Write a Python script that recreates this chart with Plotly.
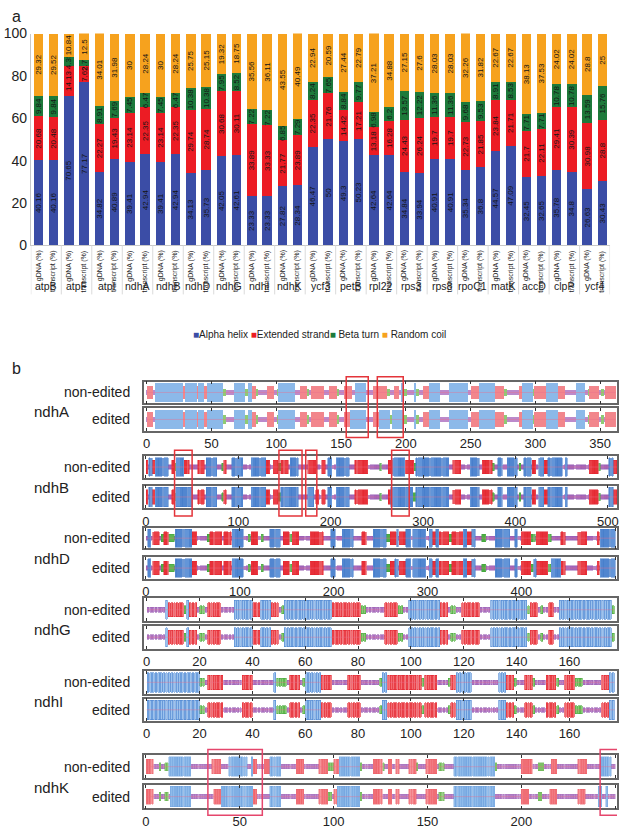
import plotly.graph_objects as go

# ---------------- Panel a data ----------------
genes = ["atpB", "atpF", "atpI", "ndhA", "ndhB", "ndhD", "ndhG", "ndhI", "ndhK", "ycf3",
         "petB", "rpl22", "rps3", "rps8", "rpoC1", "matK", "accD", "clpP", "ycf4"]
conditions = ["gDNA (%)", "transcript (%)"]

alpha_helix = [40.16, 40.16, 70.65, 77.17, 34.82, 40.89, 39.41, 42.94, 39.41, 42.94,
               34.13, 35.73, 42.05, 42.61, 23.33, 23.33, 27.82, 28.34, 46.47, 50,
               49.3, 50.23, 42.64, 42.64, 34.84, 33.94, 40.91, 40.91, 35.34, 36.8,
               44.57, 47.09, 32.45, 32.65, 35.78, 34.8, 26.63, 30.43]
extended_strand = [20.68, 20.48, 14.13, 7.62, 22.27, 19.43, 23.14, 22.35, 23.14, 22.35,
                   29.74, 28.74, 30.68, 30.11, 33.89, 33.33, 21.77, 23.89, 22.35, 21.76,
                   14.42, 17.21, 13.18, 16.28, 24.43, 26.24, 19.7, 19.7, 22.73, 21.85,
                   23.84, 21.71, 21.7, 22.11, 29.41, 30.39, 30.98, 28.8]
beta_turn = [9.84, 9.84, 4.35, 2.72, 8.91, 7.69, 7.45, 6.47, 7.45, 6.47,
             10.38, 10.38, 7.95, 8.52, 7.22, 7.22, 6.85, 7.29, 8.24, 7.65,
             8.84, 9.77, 6.98, 6.2, 13.57, 12.22, 11.36, 11.36, 9.68, 9.53,
             8.91, 8.53, 7.71, 7.71, 10.78, 10.78, 13.59, 15.76]
random_coil = [29.32, 29.52, 10.84, 12.5, 34.01, 31.98, 30, 28.24, 30, 28.24,
               25.75, 25.15, 19.32, 18.75, 35.56, 36.11, 43.55, 40.49, 22.94, 20.59,
               27.44, 22.79, 37.21, 34.88, 27.15, 27.6, 28.03, 28.03, 32.26, 31.82,
               22.67, 22.67, 38.13, 37.53, 24.02, 24.02, 28.8, 25]
y_ticks = [0, 20, 40, 60, 80, 100]

# ---------------- Panel b data (run-length secondary structure) ----------------
# H = alpha helix, E = extended strand, T = beta turn, C = random coil
ndhA_non_edited = ("C1 E4 C2 H21 E2 H9 E1 H4 E3 H12 T2 C7 H8 T2 C1 H2 E3 T2 C7 E5 C3 T1 H12 C5 E5 T1 C2 "
                   "E10 C4 E6 T1 C5 E5 C3 H8 C6 E10 T3 C3 E4 C2 H1 T3 C6 H1 T2 C4 E4 H8 C8 H14 C3 E6 "
                   "H12 E7 T2 C10 E2 H8 T1 E2 T1 E7 H8 E6 C9 H6 C3 T1 E3 C1 E3 C2 T2 C1 E4 C1 E3")
ndhA_edited = ("C1 E4 C2 H21 E2 H9 E1 H4 E3 H12 T2 C7 H8 T2 C1 H2 E3 T2 C7 E5 C3 T1 H12 C5 E5 T1 C2 "
               "E10 C4 E6 T1 C5 E4 H12 C6 E5 H8 T2 H3 C1 H4 T3 C6 H1 T2 C4 E4 H8 C8 H14 C3 E6 "
               "H12 E7 T2 C10 E2 H8 T1 E2 T1 E7 H8 E6 C9 H6 C3 T1 E3 C1 E3 C2 T2 C1 E4 C1 E3")
ndhB_non_edited = ("E2 C1 H4 E3 H14 C4 E3 T2 H8 E6 C9 E7 C2 H12 C5 T2 E3 C6 H12 C9 H16 E4 C4 E5 T3 E8 "
                   "C2 H9 C10 E9 C6 E4 C3 H4 C5 H14 C6 E14 C13 T2 C7 E5 H13 E10 T2 H36 C4 E9 C10 H10 "
                   "C3 E11 T2 C4 H5 C5 H11 C2 T2 C3 H8 C1 E4 C3 H6 E4 H16 C3 H2 C24 E10 T2 C9 H5 E4")
ndhB_edited = ("E2 C1 H4 E3 H14 C4 E2 T2 H18 C6 E7 C2 H12 C5 T2 E3 C6 H12 C9 H16 E4 C4 E5 T3 H19 "
               "C10 H7 C2 E3 C3 E4 C3 H4 C5 H14 C6 E14 C13 T2 C7 E3 H24 T3 H36 C4 E9 C10 H10 "
               "C3 E11 T2 C4 H5 C5 H11 C2 T2 C3 H8 C1 E4 C3 H6 E4 H16 C3 H2 C24 E10 T2 C9 H5 E4")
ndhD_non_edited = ("C2 H3 C2 E7 C2 T3 E5 T6 C1 H18 E5 C11 T3 E13 C2 E8 C1 H12 C5 T2 C1 E7 C4 T2 C7 H11 "
                   "C3 E7 T3 E7 C12 E14 C8 H5 C7 H12 C9 E5 C7 H14 T4 E7 H2 C1 E7 H5 C2 H14 C4 H3 E4 "
                   "H3 E11 T3 E12 H4 E5 H4 C7 T4 C10 H16 C5 H3 C4 E10 T5 C1 E12 T4 C10 E5 C13 E10 "
                   "C11 E2 C1 H16")
ndhD_edited = ("C2 H3 C2 E7 C2 T3 E5 T6 C1 H18 E5 C11 T3 E13 C2 E8 C1 H12 C5 T2 C1 E7 C4 T2 C7 H11 "
               "C3 E7 T3 E7 C12 E14 C8 H5 C7 H12 C9 E5 C7 H14 T4 E5 H4 C1 E7 H5 C2 H14 C4 H3 E4 "
               "H3 E11 T3 E12 H4 E5 H4 C7 T4 C10 H16 C5 H3 C4 E10 T3 H3 E12 T4 H10 E5 C13 E10 "
               "C11 E2 C1 H16")
ndhG_non_edited = ("C7 H1 E6 T1 H1 E3 C1 T2 C1 E5 C5 H7 E3 H4 E3 C1 T1 H18 E11 T2 C7 E5 T2 C2 H12 E3 "
                   "C1 T2 C2 E7 C4 H14 T1 E3 C1 T1 C2 E2 C2 H20 T1")
ndhG_edited = ("C7 H1 E6 T1 H1 E3 C1 T2 C1 E5 C5 H7 E3 H4 E3 C1 T1 H18 E11 T2 C7 E5 T2 C2 H12 E3 "
               "C1 T2 C2 E7 C4 H14 T1 E3 C1 T1 C2 E2 C2 H20 T1")
ndhI_non_edited = ("H20 T2 C1 E6 C7 E4 C8 H1 T4 C1 E4 C1 T1 H6 E4 C6 E5 C7 T1 H2 E13 T1 E5 C4 T1 E2 "
                   "H6 C10 H3 E3 T1 C3 E3 T1 C4 E4 T1 C2 E4 T3 C7 E3 H2")
ndhI_edited = ("H20 T2 C1 E6 C7 E4 C8 H1 T4 C1 E4 C1 T1 H6 E4 C6 E5 C7 T1 H2 E13 T1 E5 C4 T1 E2 "
               "H6 C10 H3 E3 T1 C3 E3 T1 C4 E4 T1 C2 E4 T3 C7 E3 H2")
ndhK_non_edited = ("E4 C3 T1 C2 T2 H12 C11 E5 C4 H10 C2 H1 E2 C4 E3 H6 C8 E4 C8 E5 T3 E3 H11 T1 C6 E5 "
                   "T1 C2 E2 C2 E2 C5 E4 T1 C4 E6 C1 T3 C5 H22 T1 C13 E6 C3 T3 C4 E3 C11 E5 C7 H6 C2")
ndhK_edited = ("E4 C3 T1 C2 T2 C1 H11 C12 E4 H17 E2 C7 H6 C8 E4 C8 E5 T2 C1 E2 H12 T1 C6 E5 C3 E2 "
               "C2 E2 C5 E4 C5 E6 C1 T3 C5 H22 C14 E4 C5 T2 C4 E4 C11 E4 C7 H2 C2 H1 C4")

track_genes = ["ndhA", "ndhB", "ndhD", "ndhG", "ndhI", "ndhK"]
track_ranges = {"ndhA": [-2, 363], "ndhB": [-2, 510], "ndhD": [-2, 502],
                "ndhG": [-1, 178], "ndhI": [-1, 178], "ndhK": [-1, 251]}
track_dtick = {"ndhA": 50, "ndhB": 100, "ndhD": 100, "ndhG": 20, "ndhI": 20, "ndhK": 50}
track_data = {"ndhA": (ndhA_non_edited, ndhA_edited), "ndhB": (ndhB_non_edited, ndhB_edited),
              "ndhD": (ndhD_non_edited, ndhD_edited), "ndhG": (ndhG_non_edited, ndhG_edited),
              "ndhI": (ndhI_non_edited, ndhI_edited), "ndhK": (ndhK_non_edited, ndhK_edited)}
highlights = {"ndhA": [(154, 171), (178, 198)],
              "ndhB": [(31, 50), (144, 169), (173, 185), (266, 285)],
              "ndhK": [(33, 62), (242, 258)]}

# ---------------- figure ----------------
W, H = 623, 836
FONT = "Liberation Sans"


def px(p):
    return p / W


def py(p):
    return 1 - p / H


def expand(rle):
    codes = []
    for tok in rle.split():
        codes += [tok[0]] * int(tok[1:])
    return codes


fig = go.Figure()

colors_a = {"Alpha helix": "#3B4DA6", "Extended strand": "#EC1C24",
            "Beta turn": "#1D7A3B", "Random coil": "#F6A21E"}
series = [("Alpha helix", alpha_helix), ("Extended strand", extended_strand),
          ("Beta turn", beta_turn), ("Random coil", random_coil)]
xpos = list(range(len(alpha_helix)))
for name, vals in series:
    fig.add_trace(go.Bar(
        x=xpos, y=vals, name=name, width=0.62,
        marker=dict(color=colors_a[name], line=dict(width=0)),
        text=[f"{v:g}" for v in vals], textposition="inside", textangle=-90,
        insidetextanchor="middle", constraintext="none",
        textfont=dict(size=8, color="#141414", family=FONT),
        xaxis="x", yaxis="y", showlegend=False, hoverinfo="skip"))

annotations = []
shapes = []

# condition labels (rotated) and gene labels under panel a
cond_labels = [c for _ in genes for c in conditions]
for i, c in enumerate(cond_labels):
    annotations.append(dict(x=i, y=py(245), xref="x", yref="paper", text=c, textangle=-90,
                            showarrow=False, font=dict(size=7, color="#222", family=FONT),
                            xanchor="center", yanchor="top"))
for i, g in enumerate(genes):
    annotations.append(dict(x=2 * i + 0.5, y=py(283), xref="x", yref="paper", text=g,
                            showarrow=False, font=dict(size=10.5, color="#222", family=FONT),
                            xanchor="center", yanchor="middle"))
for i in range(len(genes) + 1):
    shapes.append(dict(type="line", xref="x", yref="paper", x0=2 * i - 0.5, x1=2 * i - 0.5,
                       y0=py(242), y1=py(292), line=dict(color="#dadada", width=1)))

# legend (text)
leg = ("<span style='color:#3B4DA6'>■</span>Alpha helix "
       "<span style='color:#EC1C24'>■</span>Extended strand"
       "<span style='color:#1D7A3B'>■</span> Beta turn "
       "<span style='color:#F6A21E'>■</span> Random coil")
annotations.append(dict(x=px(320), y=py(333), xref="paper", yref="paper", text=leg,
                        showarrow=False, font=dict(size=10, color="#222", family=FONT),
                        xanchor="center", yanchor="middle"))
annotations.append(dict(x=px(8), y=py(9), xref="paper", yref="paper", text="a", showarrow=False,
                        font=dict(size=16, color="#222", family=FONT), xanchor="left", yanchor="middle"))
annotations.append(dict(x=px(8), y=py(368), xref="paper", yref="paper", text="b", showarrow=False,
                        font=dict(size=16, color="#222", family=FONT), xanchor="left", yanchor="middle"))

layout = dict(
    width=W, height=H, margin=dict(l=0, r=0, t=0, b=0),
    paper_bgcolor="white", plot_bgcolor="white", barmode="stack",
    xaxis=dict(domain=[px(29), px(612)], anchor="y", range=[-0.5, len(xpos) - 0.5],
               showticklabels=False, showline=True, linecolor="#c8c8c8", linewidth=1,
               ticks="", showgrid=False, zeroline=False),
    yaxis=dict(domain=[py(242), py(26)], anchor="x", range=[0, 100], tickvals=y_ticks,
               tickfont=dict(size=14, color="#222", family=FONT), showline=True,
               linecolor="#c8c8c8", ticks="", showgrid=False, zeroline=False),
)

# track styles
styles = {
    "smooth": dict(width=1.0, lw=0, fill={"H": "#8CB9E9", "E": "#F2868C", "T": "#8FCB74", "C": "#BC8ACB"},
                   line={"H": "#8CB9E9", "E": "#F2868C", "T": "#8FCB74", "C": "#BC8ACB"}),
    "dense": dict(width=0.85, lw=0.5, fill={"H": "#86B3E8", "E": "#F15A61", "T": "#7CC869", "C": "#B47CC8"},
                  line={"H": "#3F78C8", "E": "#E3212B", "T": "#3DA33A", "C": "#9A5CB3"}),
    "light": dict(width=0.9, lw=0.4, fill={"H": "#8FBBEA", "E": "#F27C83", "T": "#8FCB74", "C": "#BC8ACB"},
                  line={"H": "#6A9EDC", "E": "#EE5A62", "T": "#63B150", "C": "#A66FBB"}),
    "striped": dict(width=0.72, lw=0.6, fill={"H": "#9CC3EE", "E": "#F36B71", "T": "#86CC72", "C": "#B884CB"},
                    line={"H": "#4C86D2", "E": "#E3212B", "T": "#47A83C", "C": "#9E62B6"}),
}
gene_style = {"ndhA": "smooth", "ndhB": "dense", "ndhD": "dense", "ndhG": "striped",
              "ndhI": "striped", "ndhK": "light"}
heights = {"H": 0.86, "E": 0.64, "T": 0.36, "C": 0.2}
track_px = {"ndhA": ((381, 403), (408, 431)), "ndhB": ((457, 479), (487, 510)),
            "ndhD": ((530, 551), (560, 582)), "ndhG": ((602, 625), (630, 653)),
            "ndhI": ((676, 699), (704, 727)), "ndhK": ((762, 785), (792, 816))}
rect_px = {"ndhA": (376, 438), "ndhB": (451, 518), "ndhK": (756, 823)}
rect_color = {"ndhA": "#E4343A", "ndhB": "#E4343A", "ndhK": "#E5466C"}

ax = 2
for gene in track_genes:
    st = styles[gene_style[gene]]
    ne_axis = None
    for k, (label, rle) in enumerate(zip(["non-edited", "edited"], track_data[gene])):
        top, bot = track_px[gene][k]
        xa, ya = f"x{ax}", f"y{ax}"
        if k == 0:
            ne_axis = xa
        codes = expand(rle)
        for t in "CTEH":
            idx = [i for i, c in enumerate(codes) if c == t]
            h = heights[t] if not (t == "C" and gene_style[gene] == "smooth") else 0.26
            fig.add_trace(go.Bar(
                x=[i + 0.5 for i in idx], y=[h] * len(idx), base=[-h / 2] * len(idx),
                width=st["width"],
                marker=dict(color=st["fill"][t], line=dict(color=st["line"][t], width=st["lw"])),
                xaxis=xa, yaxis=ya, showlegend=False, hoverinfo="skip"))
        fig.add_trace(go.Scatter(x=[0, len(codes)], y=[0, 0], mode="lines",
                                 line=dict(color="rgba(235,110,140,0.5)", width=0.8),
                                 xaxis=xa, yaxis=ya, showlegend=False, hoverinfo="skip"))
        layout[f"xaxis{ax}"] = dict(
            domain=[px(143), px(619)], anchor=ya, range=track_ranges[gene],
            tick0=0, dtick=track_dtick[gene], ticks="inside", ticklen=3, tickwidth=1,
            tickcolor="#333", showline=True, linecolor="#666", linewidth=1.5, mirror="ticks",
            showticklabels=(k == 1), tickfont=dict(size=13, color="#222", family=FONT),
            showgrid=False, zeroline=False)
        layout[f"yaxis{ax}"] = dict(
            domain=[py(bot), py(top)], anchor=xa, range=[-0.5, 0.5], showline=True,
            linecolor="#666", linewidth=1.5, mirror=True, ticks="", showticklabels=False,
            showgrid=False, zeroline=False)
        annotations.append(dict(x=px(131), y=py((top + bot) / 2), xref="paper", yref="paper",
                                text=label, showarrow=False,
                                font=dict(size=14, color="#222", family=FONT),
                                xanchor="right", yanchor="middle"))
        ax += 1
    mid = (track_px[gene][0][1] + track_px[gene][1][0]) / 2 + 6
    annotations.append(dict(x=px(30), y=py(mid), xref="paper", yref="paper", text=gene,
                            showarrow=False, font=dict(size=15, color="#222", family=FONT),
                            xanchor="left", yanchor="middle"))
    if gene in highlights:
        y0, y1 = rect_px[gene]
        for a, b in highlights[gene]:
            shapes.append(dict(type="rect", xref=ne_axis, yref="paper", x0=a, x1=b,
                               y0=py(y1), y1=py(y0),
                               line=dict(color=rect_color[gene], width=1.5),
                               fillcolor="rgba(0,0,0,0)"))

layout["annotations"] = annotations
layout["shapes"] = shapes
fig.update_layout(**layout)
fig.write_html("out.html", config={"displayModeBar": False},
               post_script="document.body.style.margin='0px';document.body.style.overflow='hidden';")
